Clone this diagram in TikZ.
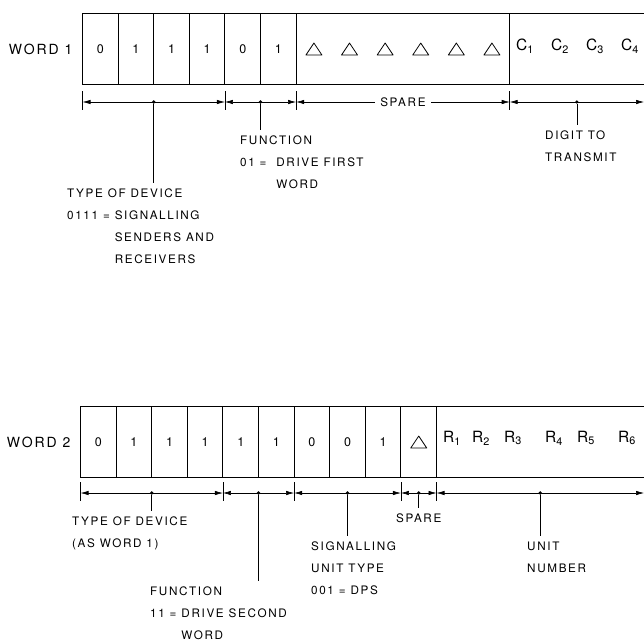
\documentclass[tikz,border=0pt]{standalone}
\usepackage{fontspec}
\setmainfont{TeX Gyre Heros}[LetterSpace=14]
\usetikzlibrary{matrix,arrows.meta}

\newcommand\labelfont{\fontsize{11.7}{22}\selectfont}
\newcommand\bitfont{\fontsize{12.5}{16}\selectfont}
\newcommand\wordfont{\fontsize{14}{16}\selectfont}
\newcommand\regfont{\fontsize{15.5}{18}\selectfont}

\tikzset{
  cell/.style={minimum width=35.6pt,minimum height=71pt,inner sep=0,outer sep=0,anchor=center,font=\bitfont},
  frame/.style={line width=1.1pt},
  dim/.style={{Latex[length=8pt,width=4.4pt]}-{Latex[length=8pt,width=4.4pt]},line width=0.6pt},
  tick/.style={line width=0.7pt},
  dot/.style={circle,fill,inner sep=0,minimum size=3.6pt},
  note/.style={align=left,inner xsep=0,inner ysep=6pt,anchor=north west,font=\labelfont},
  reg/.style={anchor=west,inner sep=0,font=\regfont},
  spr/.pic={\draw[line width=0.8pt,line join=round] (-8,6) -- (8,6) -- (0,-6) -- cycle;}
}

\begin{document}
\begin{tikzpicture}[x=1pt,y=-1pt]
\useasboundingbox (0,0) rectangle (644,642);
\coordinate (edge) at (644,0);
\coordinate (r1) at (0,102);
\coordinate (r2) at (0,493);

% first word
\matrix [matrix of nodes,nodes={cell},nodes in empty cells,column sep=0pt,anchor=north west] (w1) at (79,10)
{
  0&1&1&1&0&1& & & & & & \\
};
\draw[frame] (w1-1-1.north west) rectangle (w1-1-12.south east);
\foreach \i in {1,...,6}
  \draw[frame] (w1-1-\i.north east) -- (w1-1-\i.south east);
\draw[frame] (w1-1-12.north east) -- (w1-1-12.north east -| edge);
\draw[frame] (w1-1-12.south east) -- (w1-1-12.south east -| edge);
\foreach \i in {7,...,12}
  \pic at (w1-1-\i) {spr};
\foreach \x [count=\i] in {516,551,586,621}
  \node[reg] (c\i) at (\x,46) {C\textsubscript{\i}};
\node[font=\wordfont,anchor=east] (word1) at ([xshift=-3pt]w1.west) {WORD 1};

\coordinate (p0) at (w1-1-1.west |- r1);
\coordinate (p1) at (w1-1-4.east |- r1);
\coordinate (p2) at (w1-1-6.east |- r1);
\coordinate (p3) at (w1-1-12.east |- r1);
\coordinate (pe) at (edge |- r1);
\foreach \p in {p0,p1,p2,p3}
  \draw[tick] ([yshift=11pt]\p) -- ([yshift=-8pt]\p);
\draw[dim] (p0) -- (p1) node[dot,midway] (d1) {};
\draw[dim] (p1) -- (p2) node[dot,midway] (d2) {};
\draw[dim] (p2) -- (p3) node[midway,fill=white,inner xsep=5pt,font=\labelfont] (s1) {SPARE};
\draw[dim] (p3) -- (pe) node[dot,midway] (d3) {};

\node[note] (type1) at (67,183) {TYPE OF DEVICE\\
  0111 = SIGNALLING\\
  \phantom{0111 = }SENDERS AND\\
  \phantom{0111 = }RECEIVERS};
\node[note] (func1) at (240,130) {FUNCTION\\
  01 =\ \ DRIVE FIRST\\
  \phantom{01 =\ \ }WORD};
\node[note] (digit) at (545,125) {DIGIT TO\\ TRANSMIT};
\draw[tick] (d1) -- (d1 |- type1.north);
\draw[tick] (d2) -- (d2 |- func1.north);
\draw[tick] (d3) -- (d3 |- digit.north);

% second word
\matrix [matrix of nodes,nodes={cell},nodes in empty cells,column sep=0pt,anchor=north west] (w2) at (77,403)
{
  0&1&1&1&1&1&0&0&1& \\
};
\draw[frame] (w2-1-1.north west) rectangle (w2-1-10.south east);
\foreach \i in {1,...,9}
  \draw[frame] (w2-1-\i.north east) -- (w2-1-\i.south east);
\draw[frame] (w2-1-10.north east) -- (w2-1-10.north east -| edge);
\draw[frame] (w2-1-10.south east) -- (w2-1-10.south east -| edge);
\pic at (w2-1-10) {spr};
\foreach \x [count=\i] in {443,472,504,545,577,618}
  \node[reg] (u\i) at (\x,438) {R\textsubscript{\i}};
\node[font=\wordfont,anchor=east] (word2) at ([xshift=-3pt]w2.west) {WORD 2};

\coordinate (q0) at (w2-1-1.west |- r2);
\coordinate (q1) at (w2-1-4.east |- r2);
\coordinate (q2) at (w2-1-6.east |- r2);
\coordinate (q3) at (w2-1-9.east |- r2);
\coordinate (q4) at (w2-1-10.east |- r2);
\coordinate (qe) at (edge |- r2);
\foreach \p in {q0,q1,q2,q3,q4}
  \draw[tick] ([yshift=11pt]\p) -- ([yshift=-8pt]\p);
\draw[dim] (q0) -- (q1) node[dot,midway] (e1) {};
\draw[dim] (q1) -- (q2) node[dot,midway] (e2) {};
\draw[dim] (q2) -- (q3) node[dot,midway] (e3) {};
\draw[dim] (q3) -- (q4) node[dot,midway] (e4) {};
\draw[dim] (q4) -- (qe) node[dot,midway] (e5) {};

\node[note] (type2) at (72,511) {TYPE OF DEVICE\\ (AS WORD 1)};
\node[note] (func2) at (150,581) {FUNCTION\\
  11 = DRIVE SECOND\\
  \phantom{11 = }WORD};
\node[note] (unit) at (311,536) {SIGNALLING\\
  UNIT TYPE\\
  001 = DPS};
\node[note,anchor=north] (s2) at (e4 |- 0,508) {SPARE};
\node[note] (num) at (527,536) {UNIT\\ NUMBER};
\draw[tick] (e1) -- (e1 |- type2.north);
\draw[tick] (e2) -- (e2 |- func2.north);
\draw[tick] (e3) -- (e3 |- unit.north);
\draw[tick] (e4) -- (s2.north);
\draw[tick] (e5) -- (e5 |- num.north);
\end{tikzpicture}
\end{document}
